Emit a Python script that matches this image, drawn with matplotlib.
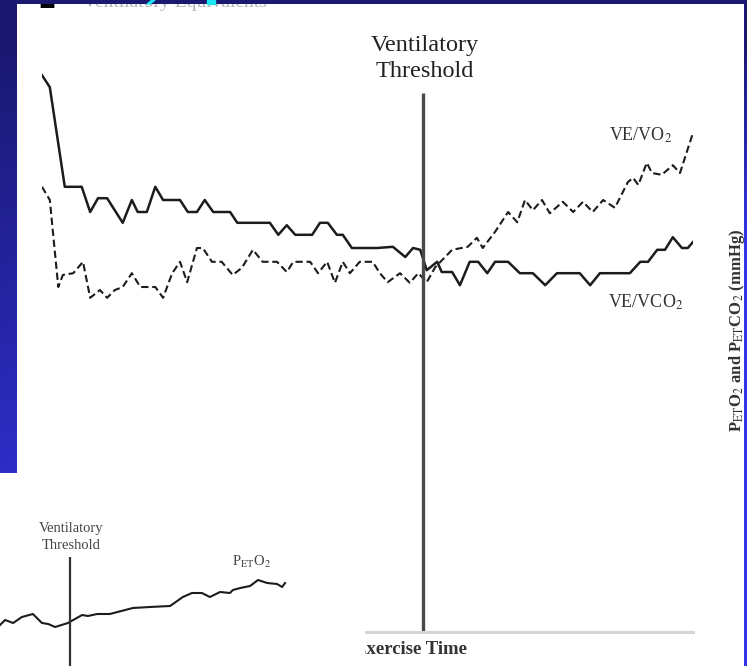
import numpy as np
import matplotlib
matplotlib.use("Agg")
import matplotlib.pyplot as plt
from matplotlib.patches import Rectangle, Polygon

plt.rcParams['font.family'] = 'Liberation Serif'
plt.rcParams['mathtext.fontset'] = 'stix'

# main panel: exercise time (% of test) vs ventilatory equivalents
vco2_time = [0, 1.2, 3.5, 6.1, 7.4, 8.6, 10.0, 12.4, 13.8, 14.7, 16.1, 17.4, 18.6, 21.2,
             22.4, 23.8, 25.0, 26.3, 28.9, 30.0, 35.0, 36.3, 37.6, 38.9, 41.5, 42.7, 43.9,
             45.3, 46.2, 47.6, 51.5, 53.9, 55.8, 57.0, 58.1, 59.1, 60.7, 61.4, 63.0, 64.2,
             65.7, 67.0, 68.4, 69.6, 71.6, 73.4, 75.4, 77.3, 79.1, 82.6, 84.2, 85.7, 90.3,
             91.9, 93.1, 94.5, 95.7, 96.9, 98.3, 99.2, 100]
vco2_vals = [92.8, 90.8, 74.2, 74.2, 70.0, 72.3, 72.3, 68.2, 72.0, 70.0, 70.0, 74.2, 72.0, 72.0,
             70.0, 70.0, 72.0, 70.0, 70.0, 68.2, 68.2, 66.2, 67.8, 66.2, 66.2, 68.2, 68.2,
             66.2, 66.2, 64.0, 64.0, 64.2, 62.5, 64.0, 63.7, 60.3, 61.7, 60.0, 60.0, 57.8,
             61.7, 61.7, 59.8, 61.7, 61.7, 59.8, 59.8, 57.8, 59.8, 59.8, 57.8, 59.8, 59.8,
             61.7, 61.7, 63.7, 63.7, 65.8, 64.0, 64.0, 65.0]

vo2_time = [0, 1.2, 2.5, 3.2, 4.8, 6.3, 7.4, 8.9, 10.0, 11.2, 12.4, 13.8, 15.1, 17.4, 18.6,
            20.0, 21.2, 22.3, 23.8, 24.7, 26.1, 27.6, 29.3, 30.7, 32.4, 33.9, 36.1, 37.6,
            38.6, 41.2, 42.4, 43.8, 45.0, 46.2, 47.3, 48.8, 50.8, 51.9, 53.1, 55.0, 56.5,
            57.8, 59.1, 60.4, 63.0, 65.4, 66.8, 67.7, 69.6, 71.6, 73.0, 74.2, 75.4, 76.8,
            78.0, 80.0, 81.6, 83.1, 84.6, 86.2, 88.0, 90.0, 90.8, 91.6, 92.9, 93.7, 95.2,
            96.9, 98.0, 100]
vo2_vals = [74.2, 72.0, 57.5, 59.5, 59.8, 61.7, 55.7, 57.0, 55.7, 57.0, 57.5, 59.8, 57.5, 57.5,
            55.7, 59.8, 61.7, 58.3, 64.0, 64.0, 61.7, 61.7, 59.5, 60.7, 63.7, 61.7, 61.7,
            60.0, 61.7, 61.7, 59.8, 61.7, 58.2, 61.7, 59.8, 61.7, 61.7, 59.8, 58.3, 59.8,
            58.2, 59.8, 58.3, 60.8, 63.7, 64.2, 65.7, 64.0, 66.7, 70.0, 68.3, 72.0, 70.3,
            72.0, 69.8, 71.7, 70.0, 71.7, 70.0, 72.0, 70.7, 75.0, 75.7, 74.5, 78.2, 76.5,
            76.2, 77.8, 76.5, 83.2]

threshold_time = 58.5
threshold_top = 89.8

# inset panel: end-tidal O2 (mmHg)
peto2_time = [0, 1.4, 3.6, 6.0, 9.0, 11.5, 13.2, 15.1, 18.6, 22.5, 24.1, 26.6, 30.1, 36.4,
              41.1, 46.6, 50.1, 52.6, 55.3, 57.5, 60.3, 63.0, 63.8, 65.8, 68.5, 70.7, 73.2,
              75.9, 77.3, 78.1]
peto2_vals = [100.0, 102.5, 101.0, 104.0, 105.5, 101.0, 100.5, 99.0, 101.0, 105.0, 104.5,
              105.5, 105.5, 108.5, 109.0, 109.5, 114.0, 116.0, 116.0, 114.0, 116.5, 116.0,
              117.5, 118.5, 119.5, 122.5, 121.0, 120.5, 119.0, 121.0]
inset_threshold = 19.2
inset_threshold_top = 134

W, H = 747, 666
fig = plt.figure(figsize=(W / 100, H / 100), dpi=100, facecolor='white')


def px_box(x0, y0, x1, y1):
    # pixel box (top-left origin) -> figure fraction rect
    return [x0 / W, 1 - y1 / H, (x1 - x0) / W, (y1 - y0) / H]


ink = '#1c1c1c'

ax = fig.add_axes(px_box(42, 4, 693, 632), zorder=1)
ax.set_xlim(0, 100)
ax.set_ylim(0, 628 / 6)
ax.patch.set_visible(False)
for s in ['top', 'right', 'left']:
    ax.spines[s].set_visible(False)
ax.spines['bottom'].set_color('#d4d4d4')
ax.spines['bottom'].set_linewidth(2.2)
ax.set_xticks([])
ax.set_yticks([])

ax.plot(vco2_time, vco2_vals, color=ink, lw=1.8)
ax.plot(vo2_time, vo2_vals, color=ink, lw=1.5, ls=(0, (3.5, 1.8)))
ax.vlines(threshold_time, 0, threshold_top, color='#4a4a4a', lw=2.4)

ax.text(58.8, 95.6, "Ventilatory\nThreshold", ha='center', va='center',
        fontsize=17.5, linespacing=1.35, color='#222222')
ax.text(91.9, 82.8, "VE/VO$_2$", ha='center', va='center', fontsize=13, color='#333333')
ax.text(92.8, 55.0, "VE/VCO$_2$", ha='center', va='center', fontsize=13, color='#333333')

fig.text(467 / W, 1 - 650 / H, "Exercise Time", ha='right', va='center',
         fontsize=13.5, fontweight='bold', color='#333333', zorder=1.5)
fig.text(737 / W, 1 - 330 / H, "P$_{\\rm ET}$O$_2$ and P$_{\\rm ET}$CO$_2$ (mmHg)",
         rotation=90, ha='center', va='center', fontsize=12, fontweight='bold',
         color='#333333', zorder=1.5)
fig.text(83 / W, 1 - 7 / H, "Ventilatory Equivalents", va='baseline', fontsize=14,
         color='#b4b4b4', zorder=1.5)
fig.text(38 / W, 1 - 6 / H, "\u25a0", va='baseline', fontsize=13, color='black',
         family='DejaVu Sans', zorder=1.5)

# inset (partial second chart, bottom-left)
ax2 = fig.add_axes(px_box(0, 473, 365, 666), zorder=2)
ax2.set_facecolor('white')
ax2.set_xlim(0, 100)
ax2.set_ylim(79.5, 176)
for s in ax2.spines.values():
    s.set_visible(False)
ax2.set_xticks([])
ax2.set_yticks([])
ax2.plot(peto2_time, peto2_vals, color=ink, lw=1.5)
ax2.vlines(inset_threshold, 79.5, inset_threshold_top, color='#333333', lw=1.6)
ax2.text(19.5, 144, "Ventilatory\nThreshold", ha='center', va='center', fontsize=10.5,
         linespacing=1.35, color='#444444')
ax2.text(69, 131.5, "P$_{\\rm ET}$O$_2$", ha='center', va='center', fontsize=10.5,
         color='#444444')

# blue slide background showing around the white chart
yy, xx = np.mgrid[0:H, 0:W]
f = np.clip((yy - 40) / (600 - 400 * xx / W), 0, 1)
navy = np.array([26, 24, 112]) / 255
bright = np.array([53, 53, 232]) / 255
rgb = navy + (bright - navy) * f[..., None]
mask = (yy < 4) | (xx >= 744) | ((xx < 17) & (yy < 473))
rgba = np.dstack([rgb, mask.astype(float)])

bg = fig.add_axes([0, 0, 1, 1], zorder=10)
bg.imshow(rgba, aspect='auto', extent=(0, W, H, 0), interpolation='nearest')
bg.set_xlim(0, W)
bg.set_ylim(H, 0)
bg.patch.set_alpha(0)
bg.axis('off')
# cyan fragments of the slide title
bg.add_patch(Polygon([[147, 4], [150, 4], [155, 0], [152, 0]], closed=True, color='#19e6f0'))
bg.add_patch(Rectangle((207, 0), 8, 4, color='#19e6f0'))

fig.savefig("out.png", dpi=100, facecolor='white')
